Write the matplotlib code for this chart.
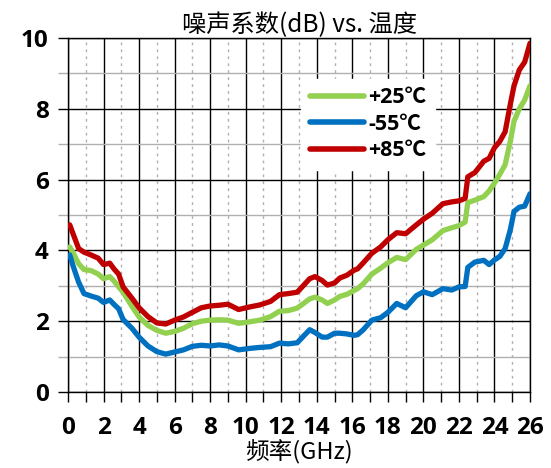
import numpy as np
import matplotlib
matplotlib.use("Agg")
import matplotlib.pyplot as plt
from matplotlib.ticker import MultipleLocator

plt.rcParams['font.family'] = ['Open Sans', 'Noto Sans CJK SC', 'DejaVu Sans']

# frequency points (GHz)
freq = [0.1, 0.3, 0.6, 0.9, 1.3, 1.7, 2.0, 2.35, 2.6, 2.85, 3.1, 3.6, 4.0, 4.5,
        5.0, 5.5, 6.0, 6.5, 7.0, 7.5, 8.0, 8.5, 9.0, 9.6, 10.2, 10.8, 11.4, 11.9,
        12.4, 12.9, 13.2, 13.6, 13.9, 14.3, 14.6, 15.0, 15.3, 15.7, 16.1, 16.3,
        16.6, 17.1, 17.6, 18.0, 18.5, 19.0, 19.6, 20.0, 20.5, 21.1, 21.6, 22.0,
        22.35, 22.5, 22.9, 23.4, 23.7, 24.0, 24.3, 24.6, 24.9, 25.1, 25.4, 25.7, 26.0]

nf_25 = [4.1, 3.92, 3.62, 3.46, 3.43, 3.33, 3.2, 3.26, 3.13, 2.97, 2.82, 2.42, 2.12, 1.88,
         1.74, 1.66, 1.71, 1.8, 1.93, 2.0, 2.03, 2.04, 2.03, 1.94, 1.98, 2.03, 2.13, 2.28,
         2.3, 2.37, 2.48, 2.63, 2.68, 2.6, 2.5, 2.6, 2.7, 2.76, 2.87, 2.92,
         3.05, 3.33, 3.5, 3.65, 3.8, 3.74, 4.03, 4.15, 4.3, 4.56, 4.64, 4.7,
         4.8, 5.35, 5.42, 5.52, 5.68, 5.9, 6.15, 6.42, 7.1, 7.65, 8.0, 8.25, 8.65]

nf_m55 = [3.87, 3.54, 3.1, 2.78, 2.71, 2.65, 2.53, 2.6, 2.47, 2.35, 2.05, 1.8, 1.55, 1.3,
          1.14, 1.07, 1.13, 1.19, 1.29, 1.32, 1.3, 1.33, 1.3, 1.19, 1.23, 1.26, 1.28, 1.38,
          1.36, 1.39, 1.55, 1.76, 1.68, 1.55, 1.55, 1.66, 1.66, 1.64, 1.6, 1.62,
          1.75, 2.03, 2.1, 2.25, 2.5, 2.38, 2.72, 2.83, 2.75, 2.92, 2.88, 2.97,
          2.98, 3.52, 3.67, 3.72, 3.6, 3.73, 3.83, 4.05, 4.6, 5.1, 5.22, 5.25, 5.6]

nf_85 = [4.72, 4.45, 4.05, 3.95, 3.87, 3.78, 3.6, 3.64, 3.47, 3.33, 2.97, 2.65, 2.38, 2.13,
         1.95, 1.92, 2.03, 2.12, 2.25, 2.38, 2.43, 2.45, 2.48, 2.33, 2.4, 2.46, 2.56, 2.75,
         2.78, 2.82, 2.98, 3.2, 3.26, 3.15, 3.02, 3.08, 3.22, 3.3, 3.44, 3.48,
         3.64, 3.92, 4.1, 4.3, 4.5, 4.47, 4.72, 4.88, 5.05, 5.32, 5.37, 5.4,
         5.47, 6.08, 6.2, 6.52, 6.6, 6.9, 7.08, 7.35, 8.15, 8.65, 9.1, 9.32, 9.85]

labels = ['+25℃', '-55℃', '+85℃']
colors = ['#92D050', '#0070C0', '#C00000']

cjk = ['Noto Sans CJK SC', 'DejaVu Sans']

fig = plt.figure(figsize=(5.51, 4.68), dpi=100)
ax = fig.add_axes([0.1234, 0.1624, 0.8385, 0.7564])

for y, lab, c in zip([nf_25, nf_m55, nf_85], labels, colors):
    ax.plot(freq, y, color=c, lw=3.8, label=lab, solid_capstyle='round', zorder=3)

ax.set_xlim(0, 26)
ax.set_ylim(0, 10)
ax.xaxis.set_major_locator(MultipleLocator(2))
ax.xaxis.set_minor_locator(MultipleLocator(1))
ax.yaxis.set_major_locator(MultipleLocator(2))
ax.yaxis.set_minor_locator(MultipleLocator(1))

ax.grid(which='major', axis='both', color='black', lw=1.0)
ax.grid(which='minor', axis='x', color='#b0b0b0', lw=1.0, ls=(0, (2, 3)))
ax.grid(which='minor', axis='y', color='#b0b0b0', lw=1.0)
ax.set_axisbelow(True)

for s in ax.spines.values():
    s.set_color('black')
    s.set_linewidth(1.0)

ax.tick_params(axis='x', which='both', direction='out', length=7, width=1, color='black')
ax.tick_params(axis='x', which='major', pad=10)
ax.tick_params(axis='y', which='major', direction='out', length=7, width=1, pad=7)
ax.tick_params(axis='y', which='minor', direction='out', length=7, width=1, color='#b0b0b0')
for t in ax.get_xticklabels() + ax.get_yticklabels():
    t.set_fontsize(17.5)
    t.set_fontweight('bold')

ax.set_title('噪声系数(dB) vs. 温度', fontsize=17.5, family=cjk, pad=2)
ax.set_xlabel('频率(GHz)', fontsize=17, family=cjk, labelpad=0)

leg = ax.legend(loc='upper left', bbox_to_anchor=(0.505, 0.885), frameon=True,
                fancybox=False, framealpha=1, edgecolor='white', facecolor='white',
                prop={'family': ['Open Sans', 'Noto Sans CJK SC'], 'weight': 'bold', 'size': 15.5},
                handlelength=2.5, handletextpad=0.2, labelspacing=0.25, borderpad=0.4,
                borderaxespad=0)
for h in leg.get_lines():
    h.set_linewidth(4)
leg.set_zorder(5)

fig.savefig('out.png', dpi=100)
